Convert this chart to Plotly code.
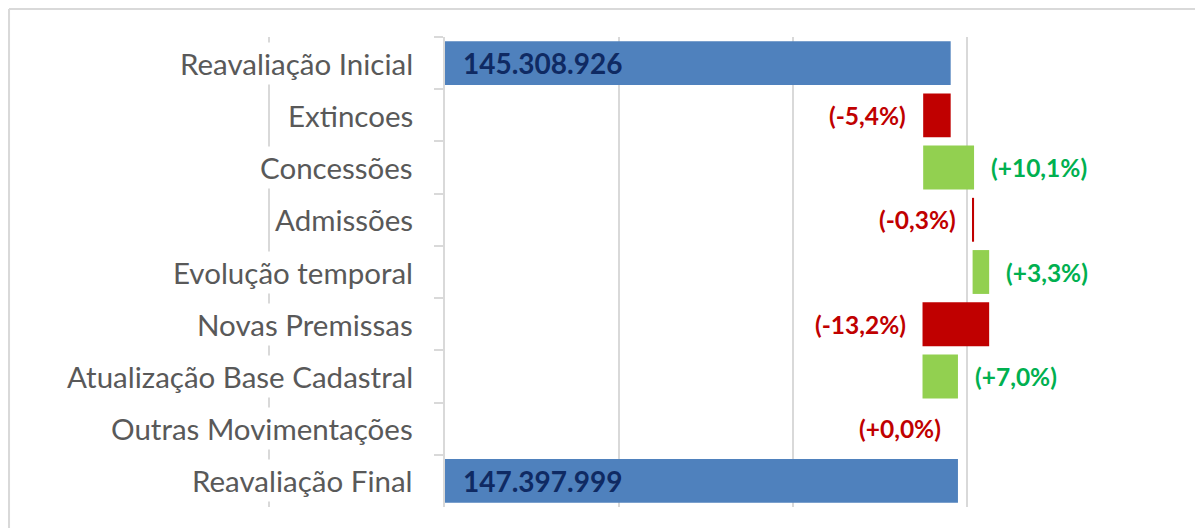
import plotly.graph_objects as go

categories = ["Reavaliação Inicial", "Extincoes", "Concessões", "Admissões",
              "Evolução temporal", "Novas Premissas", "Atualização Base Cadastral",
              "Outras Movimentações", "Reavaliação Final"]
initial_value = 145308926
final_value = 147397999
deltas = [-7900000, 14620000, -420000, 4760000, -19150000, 10179073, 0]

BLUE = "#4F81BD"
GREEN_BAR = "#92D050"
RED = "#C00000"
GREEN_TXT = "#00B050"
NAVY = "#0F2A63"
GRID = "#D9D9D9"
FONT = "Lato"

def fmt_int(v):
    return f"{v:,}".replace(",", ".")

def fmt_pct(d):
    p = d / initial_value * 100
    s = f"{p:+.1f}".replace(".", ",")
    return f"({s}%)"

bases, lengths, colors = [], [], []
starts, ends = [], []
bases.append(0); lengths.append(initial_value); colors.append(BLUE)
level = initial_value
for d in deltas:
    new = level + d
    starts.append(level); ends.append(new)
    bases.append(min(level, new)); lengths.append(abs(d))
    colors.append(GREEN_BAR if d > 0 else RED)
    level = new
bases.append(0); lengths.append(final_value); colors.append(BLUE)

fig = go.Figure(go.Bar(
    y=categories, x=lengths, base=bases, orientation="h",
    marker=dict(color=colors, line=dict(width=0)), width=0.84,
    hoverinfo="skip", showlegend=False,
))

annotations = []
# category labels (white background)
for c in categories:
    annotations.append(dict(
        x=0, xref="paper", y=c, yref="y", xanchor="right", yanchor="middle",
        xshift=-28, text=c, showarrow=False, bgcolor="white", borderpad=3,
        font=dict(family=FONT, size=29.5, color="#595959"),
    ))
# totals
for c, v in [(categories[0], initial_value), (categories[-1], final_value)]:
    annotations.append(dict(
        x=0, xref="x", y=c, yref="y", xanchor="left", yanchor="middle",
        xshift=16, text=f"<b>{fmt_int(v)}</b>", showarrow=False,
        font=dict(family=FONT, size=28, color=NAVY),
    ))
# deltas
for c, d, s, e in zip(categories[1:-1], deltas, starts, ends):
    pos = round(d / initial_value * 100, 1) > 0
    annotations.append(dict(
        x=max(s, e) if pos else min(s, e), xref="x", y=c, yref="y",
        xanchor="left" if pos else "right", yanchor="middle",
        xshift=15 if pos else -15, yshift=0, text=f"<b>{fmt_pct(d)}</b>",
        showarrow=False,
        font=dict(family=FONT, size=24.5, color=GREEN_TXT if pos else RED),
    ))

shapes = [
    # decorative vertical line behind category labels
    dict(type="line", xref="paper", yref="paper", x0=-0.2529, x1=-0.2529,
         y0=0.0, y1=1.0, line=dict(color=GRID, width=2), layer="below"),
    # chart frame (top and left edges)
    dict(type="line", xref="paper", yref="paper", x0=-0.6264, x1=1.2,
         y0=1.0596, y1=1.0596, line=dict(color=GRID, width=2)),
    dict(type="line", xref="paper", yref="paper", x0=-0.6264, x1=-0.6264,
         y0=-0.1, y1=1.0596, line=dict(color=GRID, width=2)),
]

fig.update_layout(
    width=1203, height=528,
    margin=dict(l=437, r=70, t=29, b=29),
    paper_bgcolor="white", plot_bgcolor="white",
    xaxis=dict(range=[0, 200e6], dtick=50e6, tick0=0, showgrid=True,
               gridcolor=GRID, gridwidth=2, showticklabels=False,
               zeroline=False, showline=False, fixedrange=True),
    yaxis=dict(type="category", categoryorder="array", categoryarray=categories,
               autorange="reversed", showticklabels=False, ticks="outside",
               tickson="boundaries", ticklen=9, tickcolor=GRID, tickwidth=2,
               showline=True, linecolor=GRID, linewidth=2, showgrid=False),
    annotations=annotations, shapes=shapes,
)

fig.write_html("out.html")
